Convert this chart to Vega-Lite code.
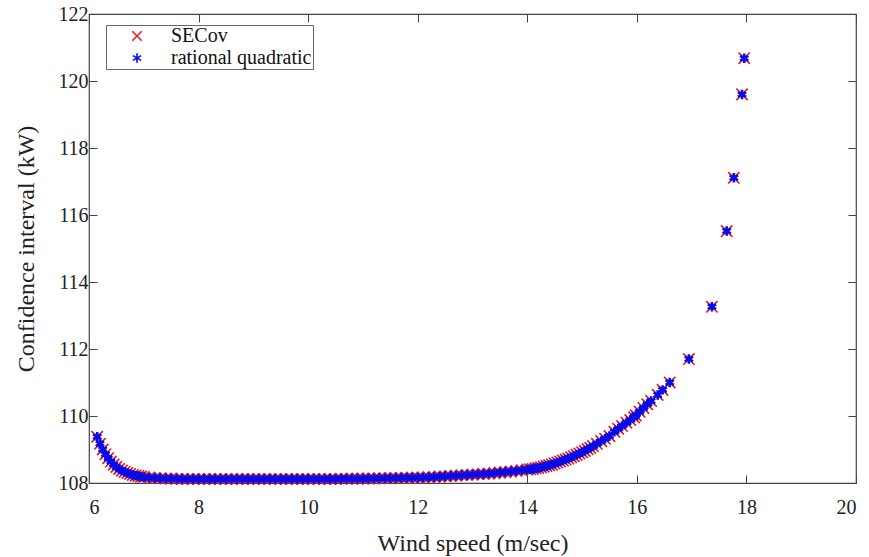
{
  "$schema": "https://vega.github.io/schema/vega-lite/v6.json",
  "width": 767,
  "height": 469,
  "autosize": {"type": "none"},
  "padding": {"left": 89, "top": 14, "right": 13, "bottom": 74},
  "background": "white",
  "config": {
    "view": {"stroke": "#444", "strokeWidth": 1.2},
    "font": "Liberation Serif",
    "axis": {
      "domain": false,
      "grid": false,
      "tickColor": "#444",
      "tickSize": -8,
      "tickWidth": 1,
      "labelFont": "Liberation Serif",
      "labelFontSize": 20,
      "labelColor": "#222",
      "titleFont": "Liberation Serif",
      "titleFontSize": 24,
      "titleFontWeight": "normal",
      "titleColor": "#222"
    }
  },
  "data": {
    "values": [
      {"x": 6.15, "secov": 109.38, "rq": 109.38},
      {"x": 6.2, "secov": 109.17, "rq": 109.17},
      {"x": 6.25, "secov": 109.0, "rq": 109.0},
      {"x": 6.3, "secov": 108.86, "rq": 108.86},
      {"x": 6.35, "secov": 108.74, "rq": 108.74},
      {"x": 6.4, "secov": 108.64, "rq": 108.64},
      {"x": 6.45, "secov": 108.55, "rq": 108.55},
      {"x": 6.5, "secov": 108.48, "rq": 108.48},
      {"x": 6.55, "secov": 108.42, "rq": 108.42},
      {"x": 6.6, "secov": 108.37, "rq": 108.37},
      {"x": 6.65, "secov": 108.33, "rq": 108.33},
      {"x": 6.7, "secov": 108.3, "rq": 108.3},
      {"x": 6.75, "secov": 108.27, "rq": 108.27},
      {"x": 6.8, "secov": 108.24, "rq": 108.24},
      {"x": 6.85, "secov": 108.22, "rq": 108.22},
      {"x": 6.9, "secov": 108.21, "rq": 108.21},
      {"x": 6.95, "secov": 108.19, "rq": 108.19},
      {"x": 7.0, "secov": 108.18, "rq": 108.18},
      {"x": 7.1, "secov": 108.16, "rq": 108.16},
      {"x": 7.2, "secov": 108.15, "rq": 108.15},
      {"x": 7.3, "secov": 108.14, "rq": 108.14},
      {"x": 7.4, "secov": 108.135, "rq": 108.135},
      {"x": 7.5, "secov": 108.13, "rq": 108.13},
      {"x": 7.6, "secov": 108.125, "rq": 108.125},
      {"x": 7.7, "secov": 108.12, "rq": 108.12},
      {"x": 7.8, "secov": 108.12, "rq": 108.12},
      {"x": 7.9, "secov": 108.12, "rq": 108.12},
      {"x": 8.0, "secov": 108.12, "rq": 108.12},
      {"x": 8.1, "secov": 108.12, "rq": 108.12},
      {"x": 8.2, "secov": 108.12, "rq": 108.12},
      {"x": 8.3, "secov": 108.12, "rq": 108.12},
      {"x": 8.4, "secov": 108.12, "rq": 108.12},
      {"x": 8.5, "secov": 108.12, "rq": 108.12},
      {"x": 8.6, "secov": 108.12, "rq": 108.12},
      {"x": 8.7, "secov": 108.12, "rq": 108.12},
      {"x": 8.8, "secov": 108.12, "rq": 108.12},
      {"x": 8.9, "secov": 108.12, "rq": 108.12},
      {"x": 9.0, "secov": 108.12, "rq": 108.12},
      {"x": 9.1, "secov": 108.12, "rq": 108.12},
      {"x": 9.2, "secov": 108.12, "rq": 108.12},
      {"x": 9.3, "secov": 108.12, "rq": 108.12},
      {"x": 9.4, "secov": 108.12, "rq": 108.12},
      {"x": 9.5, "secov": 108.12, "rq": 108.12},
      {"x": 9.6, "secov": 108.12, "rq": 108.12},
      {"x": 9.7, "secov": 108.12, "rq": 108.12},
      {"x": 9.8, "secov": 108.12, "rq": 108.12},
      {"x": 9.9, "secov": 108.12, "rq": 108.12},
      {"x": 10.0, "secov": 108.12, "rq": 108.12},
      {"x": 10.1, "secov": 108.12, "rq": 108.12},
      {"x": 10.2, "secov": 108.12, "rq": 108.12},
      {"x": 10.3, "secov": 108.12, "rq": 108.12},
      {"x": 10.4, "secov": 108.12, "rq": 108.12},
      {"x": 10.5, "secov": 108.12, "rq": 108.12},
      {"x": 10.6, "secov": 108.125, "rq": 108.125},
      {"x": 10.7, "secov": 108.125, "rq": 108.125},
      {"x": 10.8, "secov": 108.13, "rq": 108.13},
      {"x": 10.9, "secov": 108.13, "rq": 108.13},
      {"x": 11.0, "secov": 108.13, "rq": 108.13},
      {"x": 11.1, "secov": 108.135, "rq": 108.135},
      {"x": 11.2, "secov": 108.135, "rq": 108.135},
      {"x": 11.3, "secov": 108.14, "rq": 108.14},
      {"x": 11.4, "secov": 108.14, "rq": 108.14},
      {"x": 11.5, "secov": 108.145, "rq": 108.145},
      {"x": 11.6, "secov": 108.15, "rq": 108.15},
      {"x": 11.7, "secov": 108.15, "rq": 108.15},
      {"x": 11.8, "secov": 108.155, "rq": 108.155},
      {"x": 11.9, "secov": 108.16, "rq": 108.16},
      {"x": 12.0, "secov": 108.16, "rq": 108.16},
      {"x": 12.1, "secov": 108.165, "rq": 108.165},
      {"x": 12.2, "secov": 108.17, "rq": 108.17},
      {"x": 12.3, "secov": 108.18, "rq": 108.18},
      {"x": 12.4, "secov": 108.19, "rq": 108.19},
      {"x": 12.5, "secov": 108.2, "rq": 108.2},
      {"x": 12.6, "secov": 108.21, "rq": 108.21},
      {"x": 12.7, "secov": 108.22, "rq": 108.22},
      {"x": 12.8, "secov": 108.23, "rq": 108.23},
      {"x": 12.9, "secov": 108.24, "rq": 108.24},
      {"x": 13.0, "secov": 108.25, "rq": 108.25},
      {"x": 13.1, "secov": 108.26, "rq": 108.26},
      {"x": 13.2, "secov": 108.27, "rq": 108.27},
      {"x": 13.3, "secov": 108.28, "rq": 108.28},
      {"x": 13.4, "secov": 108.295, "rq": 108.295},
      {"x": 13.5, "secov": 108.31, "rq": 108.31},
      {"x": 13.6, "secov": 108.325, "rq": 108.325},
      {"x": 13.7, "secov": 108.34, "rq": 108.34},
      {"x": 13.8, "secov": 108.36, "rq": 108.36},
      {"x": 13.9, "secov": 108.38, "rq": 108.38},
      {"x": 14.0, "secov": 108.4, "rq": 108.4},
      {"x": 14.05, "secov": 108.41, "rq": 108.41},
      {"x": 14.1, "secov": 108.42, "rq": 108.42},
      {"x": 14.15, "secov": 108.44, "rq": 108.44},
      {"x": 14.2, "secov": 108.45, "rq": 108.45},
      {"x": 14.25, "secov": 108.47, "rq": 108.47},
      {"x": 14.3, "secov": 108.49, "rq": 108.49},
      {"x": 14.35, "secov": 108.51, "rq": 108.51},
      {"x": 14.4, "secov": 108.53, "rq": 108.53},
      {"x": 14.45, "secov": 108.55, "rq": 108.55},
      {"x": 14.5, "secov": 108.58, "rq": 108.58},
      {"x": 14.55, "secov": 108.61, "rq": 108.61},
      {"x": 14.6, "secov": 108.64, "rq": 108.64},
      {"x": 14.65, "secov": 108.67, "rq": 108.67},
      {"x": 14.7, "secov": 108.7, "rq": 108.7},
      {"x": 14.75, "secov": 108.73, "rq": 108.73},
      {"x": 14.8, "secov": 108.77, "rq": 108.77},
      {"x": 14.85, "secov": 108.8, "rq": 108.8},
      {"x": 14.9, "secov": 108.84, "rq": 108.84},
      {"x": 14.95, "secov": 108.88, "rq": 108.88},
      {"x": 15.0, "secov": 108.92, "rq": 108.92},
      {"x": 15.05, "secov": 108.96, "rq": 108.96},
      {"x": 15.1, "secov": 109.01, "rq": 109.01},
      {"x": 15.15, "secov": 109.05, "rq": 109.05},
      {"x": 15.2, "secov": 109.1, "rq": 109.1},
      {"x": 15.27, "secov": 109.17, "rq": 109.17},
      {"x": 15.35, "secov": 109.25, "rq": 109.25},
      {"x": 15.42, "secov": 109.32, "rq": 109.32},
      {"x": 15.5, "secov": 109.4, "rq": 109.4},
      {"x": 15.59, "secov": 109.53, "rq": 109.53},
      {"x": 15.66, "secov": 109.62, "rq": 109.62},
      {"x": 15.73, "secov": 109.7, "rq": 109.7},
      {"x": 15.81, "secov": 109.8, "rq": 109.8},
      {"x": 15.88, "secov": 109.88, "rq": 109.88},
      {"x": 15.95, "secov": 109.96, "rq": 109.96},
      {"x": 15.98, "secov": 110.02, "rq": 110.02},
      {"x": 16.05, "secov": 110.13, "rq": 110.13},
      {"x": 16.12, "secov": 110.24, "rq": 110.24},
      {"x": 16.19, "secov": 110.35, "rq": 110.35},
      {"x": 16.26, "secov": 110.45, "rq": 110.45},
      {"x": 16.38, "secov": 110.63, "rq": 110.63},
      {"x": 16.47, "secov": 110.78, "rq": 110.78},
      {"x": 16.6, "secov": 111.0, "rq": 111.0},
      {"x": 16.95, "secov": 111.7, "rq": 111.7},
      {"x": 17.37, "secov": 113.26, "rq": 113.26},
      {"x": 17.64, "secov": 115.52, "rq": 115.52},
      {"x": 17.77, "secov": 117.11, "rq": 117.11},
      {"x": 17.92, "secov": 119.6, "rq": 119.6},
      {"x": 17.96, "secov": 120.68, "rq": 120.68}
    ]
  },
  "layer": [
    {
      "mark": {"type": "point", "filled": false, "size": 130, "strokeWidth": 1.7, "opacity": 1},
      "encoding": {
        "x": {
          "field": "x", "type": "quantitative",
          "scale": {"domain": [6, 20], "nice": false, "zero": false},
          "axis": {"orient": "bottom", "values": [6, 8, 10, 12, 14, 16, 18, 20], "format": "d", "labelPadding": 22, "title": "Wind speed (m/sec)", "titlePadding": 14}
        },
        "y": {
          "field": "secov", "type": "quantitative",
          "scale": {"domain": [108, 122], "nice": false, "zero": false},
          "axis": {"orient": "left", "values": [108, 110, 112, 114, 116, 118, 120, 122], "format": "d", "labelPadding": 9, "title": "Confidence interval (kW)", "titlePadding": 20}
        },
        "color": {
          "datum": "SECov", "type": "nominal",
          "scale": {"domain": ["SECov", "rational quadratic"], "range": ["#e02020", "#0a0ae6"]},
          "legend": {
            "orient": "none", "legendX": 17, "legendY": 11, "title": null,
            "fillColor": "white", "strokeColor": "#666", "padding": 1,
            "labelFont": "Liberation Serif", "labelFontSize": 20, "labelColor": "#111",
            "symbolSize": 90, "symbolStrokeWidth": 1.6, "symbolOffset": 20, "labelOffset": 24, "rowPadding": 2
          }
        },
        "shape": {
          "datum": "SECov", "type": "nominal",
          "scale": {"domain": ["SECov", "rational quadratic"], "range": ["M-1,-1L1,1M1,-1L-1,1", "M0,-1L0,1M-0.87,-0.5L0.87,0.5M0.87,-0.5L-0.87,0.5"]},
          "legend": {
            "orient": "none", "legendX": 17, "legendY": 11, "title": null,
            "fillColor": "white", "strokeColor": "#666", "padding": 1,
            "labelFont": "Liberation Serif", "labelFontSize": 20, "labelColor": "#111",
            "symbolSize": 90, "symbolStrokeWidth": 1.6, "symbolOffset": 20, "labelOffset": 24, "rowPadding": 2
          }
        }
      }
    },
    {
      "mark": {"type": "point", "filled": false, "size": 90, "strokeWidth": 2.6, "opacity": 1},
      "encoding": {
        "x": {
          "field": "x", "type": "quantitative",
          "axis": {"orient": "top", "values": [6, 8, 10, 12, 14, 16, 18, 20], "labels": false, "title": null}
        },
        "y": {
          "field": "rq", "type": "quantitative",
          "axis": {"orient": "right", "values": [108, 110, 112, 114, 116, 118, 120, 122], "labels": false, "title": null}
        },
        "color": {"datum": "rational quadratic", "type": "nominal"},
        "shape": {"datum": "rational quadratic", "type": "nominal"}
      }
    }
  ]
}
